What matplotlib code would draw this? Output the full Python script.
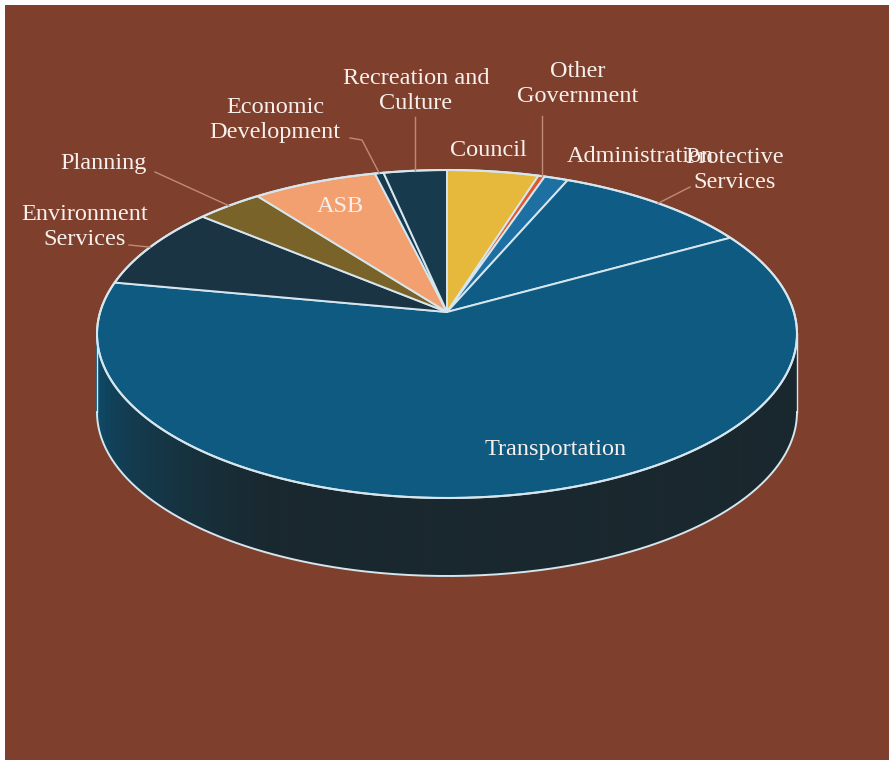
import numpy as np
import matplotlib.pyplot as plt
from matplotlib.patches import Polygon, Rectangle
import matplotlib.colors as mcolors

# Budget shares (%) in drawing order, clockwise from 12 o'clock
categories = ["Council", "Other Government", "Administration", "Protective Services",
              "Transportation", "Environment Services", "Planning", "ASB",
              "Economic Development", "Recreation and Culture"]
shares = [4.2, 0.3, 1.1, 9.4, 65.0, 7.6, 3.2, 5.8, 0.4, 2.9]
top_colors = ["#E6B83C", "#E0582A", "#1E70A2", "#0F5C86",
              "#0F5A80", "#1B3444", "#7A6329", "#F2A070",
              "#163A50", "#173A4D"]

W, H = 893, 766
BG = "#7E402C"
TXT = "#F7EFEC"
EDGE = "#D6E6EE"

fig = plt.figure(figsize=(W / 100, H / 100), dpi=100)
fig.patch.set_facecolor("white")
ax = fig.add_axes([0, 0, 1, 1])
ax.set_xlim(0, W)
ax.set_ylim(H, 0)
ax.axis("off")
ax.add_patch(Rectangle((5, 5), W - 9, H - 11, facecolor=BG, edgecolor="none", zorder=0))

# 3-D pie geometry (pixel space)
cx, cy, rx, ry = 447, 334, 350, 164
apex = np.array([447, 312])
depth = 78

fracs = np.array(shares) / np.sum(shares)
edges = 90 - 360 * np.concatenate([[0], np.cumsum(fracs)])


def rim(t, dy=0.0):
    t = np.radians(t)
    return np.column_stack([cx + rx * np.cos(t), cy - ry * np.sin(t) + dy])


# side wall (front half: angles -180..0), shaded strips
dark = np.array(mcolors.to_rgb("#19282F"))
for i in range(len(shares)):
    a0, a1 = max(edges[i + 1], -180), min(edges[i], 0)
    if a1 <= a0:
        continue
    base = np.array(mcolors.to_rgb(top_colors[i])) * 0.85
    ts = np.linspace(a0, a1, int((a1 - a0) * 2) + 2)
    for ta, tb in zip(ts[:-1], ts[1:]):
        tm = 0.5 * (ta + tb)
        w = np.clip((tm + 175) / 55, 0, 1) ** 0.8
        col = base * (1 - w) + dark * w
        top = rim(np.array([ta, tb]))
        bot = rim(np.array([tb, ta]), depth)
        ax.add_patch(Polygon(np.vstack([top, bot]), closed=True, facecolor=col,
                             edgecolor=col, lw=0.6, zorder=1))

# outline of side wall
bt = np.linspace(-180, 0, 300)
ax.plot(*rim(bt, depth).T, color=EDGE, lw=1.4, zorder=2)
for a in (-180, 0):
    p = rim(np.array([a]))[0]
    ax.plot([p[0], p[0]], [p[1], p[1] + depth], color=EDGE, lw=1.0, zorder=2)

# top face slices
for i in range(len(shares)):
    ts = np.linspace(edges[i], edges[i + 1], max(int(abs(edges[i] - edges[i + 1]) * 2), 3))
    pts = np.vstack([apex, rim(ts)])
    ax.add_patch(Polygon(pts, closed=True, facecolor=top_colors[i], edgecolor=EDGE,
                         lw=1.4, joinstyle="round", zorder=3))

tfull = np.linspace(0, 360, 600)
ax.plot(*rim(tfull).T, color=EDGE, lw=1.5, zorder=4)

# labels
font = dict(family=["Liberation Serif", "DejaVu Serif"], color=TXT, fontsize=17.5)
mids = 0.5 * (edges[:-1] + edges[1:])
idx = {c: k for k, c in enumerate(categories)}


def mid_pt(name):
    return rim(np.array([mids[idx[name]]]))[0]


lc = dict(color="#C08A76", lw=1.0, zorder=5)

ax.text(416, 91, "Recreation and\nCulture", ha="center", va="center",
        linespacing=1.2, **font)
p = mid_pt("Recreation and Culture")
ax.plot([p[0], p[0]], [117, p[1]], **lc)

ax.text(578, 84, "Other\nGovernment", ha="center", va="center", linespacing=1.2, **font)
p = mid_pt("Other Government")
ax.plot([p[0], p[0]], [116, p[1]], **lc)

ax.text(275, 120, "Economic\nDevelopment", ha="center", va="center", linespacing=1.2, **font)
p = mid_pt("Economic Development")
ax.plot([350, 362, p[0]], [138, 140, p[1]], **lc)

ax.text(103, 163, "Planning", ha="center", va="center", **font)
p = mid_pt("Planning")
ax.plot([155, p[0]], [172, p[1]], **lc)

ax.text(85, 227, "Environment\nServices", ha="center", va="center", linespacing=1.2, **font)
p = mid_pt("Environment Services")
ax.plot([129, p[0]], [245, p[1]], **lc)

ax.text(488, 150, "Council", ha="center", va="center", **font)
ax.text(640, 157, "Administration", ha="center", va="center", **font)
ax.text(735, 170, "Protective\nServices", ha="center", va="center", linespacing=1.2, **font)
p = mid_pt("Protective Services")
ax.plot([690, p[0]], [187, p[1]], **lc)

ax.text(340, 206, "ASB", ha="center", va="center", **font)
ax.text(556, 450, "Transportation", ha="center", va="center", **font)

fig.savefig("out.png", dpi=100, facecolor=fig.get_facecolor())
